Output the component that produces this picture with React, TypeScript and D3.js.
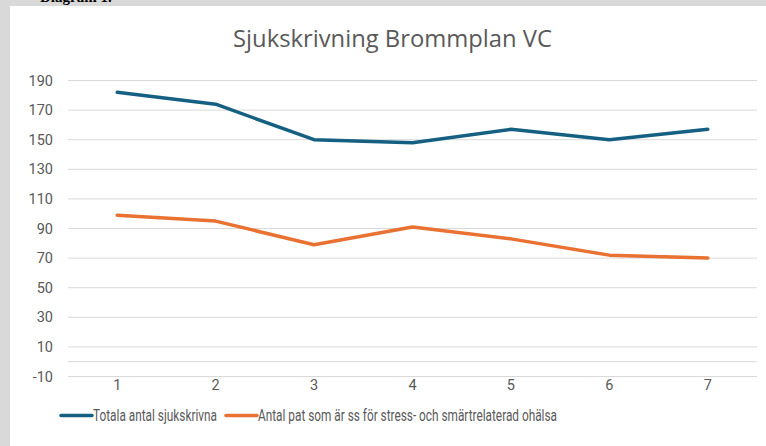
import React from "react";
import * as d3 from "d3";

const categories = ["1", "2", "3", "4", "5", "6", "7"];
const totalSeries = [182, 174, 150, 148, 157, 150, 157];
const stressSeries = [99, 95, 79, 91, 83, 72, 70];
const yTicks = [-10, 10, 30, 50, 70, 90, 110, 130, 150, 170, 190];
const seriesNames = ["Totala antal sjukskrivna", "Antal pat som är ss för stress- och smärtrelaterad ohälsa"];
const title = "Sjukskrivning Brommplan VC";

const W = 766;
const H = 446;
const BLUE = "#156082";
const ORANGE = "#E97132";
const GRID = "#d9d9d9";
const TXT = "#595959";

export default function App() {
  const x = d3.scalePoint<string>().domain(categories).range([68, 757]).padding(0.5);
  const y = d3.scaleLinear().domain([-10, 190]).range([376.5, 80.5]);
  const line = d3
    .line<number>()
    .x((_, i) => x(categories[i]) as number)
    .y((d) => y(d));

  const series = [
    { name: seriesNames[0], values: totalSeries, color: BLUE },
    { name: seriesNames[1], values: stressSeries, color: ORANGE },
  ];

  const legendY = 415.5;
  const legendItems = [
    { x0: 61, x1: 92, tx: 93, len: 124 },
    { x0: 226, x1: 257, tx: 258, len: 299 },
  ];

  return (
    <svg
      width={W}
      height={H}
      style={{ position: "absolute", left: 0, top: 0, display: "block" }}
      fontFamily="'Roboto', 'Liberation Sans', sans-serif"
    >
      <rect x={0} y={0} width={W} height={H} fill="#ffffff" />
      <rect x={0} y={0} width={W} height={6} fill="#d9d9d9" />
      <rect x={0} y={0} width={10} height={H} fill="#d9d9d9" />
      <text x={40} y={2} fontFamily="'Liberation Serif', serif" fontWeight="bold" fontSize={15} fill="#000">
        Diagram 1.
      </text>

      <text
        x={392.5}
        y={47}
        textAnchor="middle"
        fontFamily="'Open Sans', sans-serif"
        fontSize={23.5}
        fill={TXT}
        textLength={319}
        lengthAdjust="spacingAndGlyphs"
      >
        {title}
      </text>

      {yTicks.map((t) => (
        <g key={t}>
          <line x1={68} x2={757} y1={y(t)} y2={y(t)} stroke={GRID} strokeWidth={1} />
          <text x={53} y={y(t)} dy="0.35em" textAnchor="end" fontSize={14.5} fill={TXT}>
            {t}
          </text>
        </g>
      ))}
      <line x1={68} x2={757} y1={y(0)} y2={y(0)} stroke={GRID} strokeWidth={1} />

      {categories.map((c) => (
        <text key={c} x={x(c) as number} y={385} dy="0.35em" textAnchor="middle" fontSize={14.5} fill={TXT}>
          {c}
        </text>
      ))}

      {series.map((s) => (
        <path
          key={s.name}
          d={line(s.values) as string}
          fill="none"
          stroke={s.color}
          strokeWidth={3.5}
          strokeLinejoin="round"
          strokeLinecap="round"
        />
      ))}

      {series.map((s, i) => (
        <g key={s.name}>
          <line
            x1={legendItems[i].x0}
            x2={legendItems[i].x1}
            y1={legendY}
            y2={legendY}
            stroke={s.color}
            strokeWidth={3.5}
            strokeLinecap="round"
          />
          <text
            x={legendItems[i].tx}
            y={legendY}
            dy="0.35em"
            fontSize={16}
            fill={TXT}
            textLength={legendItems[i].len}
            lengthAdjust="spacingAndGlyphs"
          >
            {s.name}
          </text>
        </g>
      ))}
    </svg>
  );
}
